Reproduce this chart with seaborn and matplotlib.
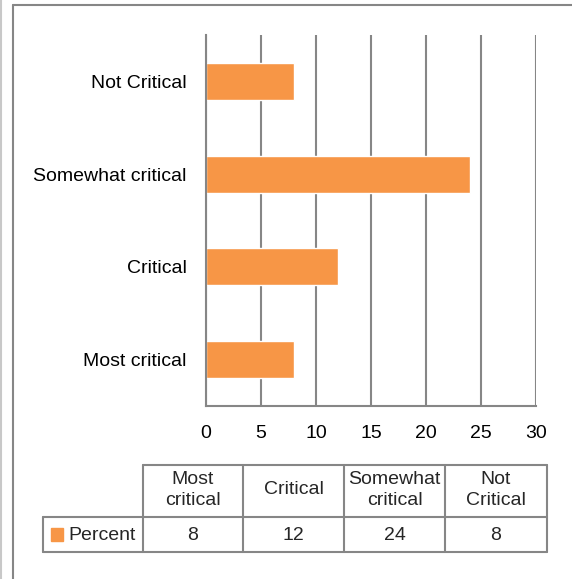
import matplotlib
matplotlib.use("Agg")
import matplotlib.pyplot as plt
from matplotlib.lines import Line2D
from matplotlib.patches import Rectangle
import seaborn as sns
import pandas as pd

categories = ["Most critical", "Critical", "Somewhat critical", "Not Critical"]
percent = [8, 12, 24, 8]
table_headers = ["Most\ncritical", "Critical", "Somewhat\ncritical", "Not\nCritical"]
series_name = "Percent"
x_ticks = [0, 5, 10, 15, 20, 25, 30]

BAR = "#F79646"
GRID = "#868686"
W, H = 572, 579
FS = 14

sns.set_theme(style="white")
plt.rcParams["font.family"] = ["Liberation Sans", "DejaVu Sans"]

fig = plt.figure(figsize=(W / 100, H / 100), dpi=100)
fig.patch.set_facecolor("white")


def fx(px):
    return px / W


def fy(py):
    return 1 - py / H


ax = fig.add_axes([fx(206), fy(406), fx(536) - fx(206), fy(35) - fy(406)])
df = pd.DataFrame({"category": categories, "value": percent})
order = categories[::-1]
sns.barplot(data=df, x="value", y="category", order=order, color=BAR,
            saturation=1, width=0.4, ax=ax)
ax.set_xlim(0, 30)
ax.set_xticks(x_ticks)
ax.set_xlabel("")
ax.set_ylabel("")
ax.grid(axis="x", color=GRID, linewidth=1.5)
ax.set_axisbelow(True)
for s in ["top", "right"]:
    ax.spines[s].set_visible(False)
for s in ["left", "bottom"]:
    ax.spines[s].set_color(GRID)
    ax.spines[s].set_linewidth(1.5)
ax.tick_params(axis="x", length=0, pad=14, labelsize=FS, colors="black")
ax.tick_params(axis="y", length=0, pad=14, labelsize=FS, colors="black")

# data table below the chart
cols = [143, 243, 344, 445, 547]
row_top, row_mid, row_bot = 465, 517, 552
tl = dict(color=GRID, linewidth=1.5, transform=fig.transFigure)
fig.add_artist(Line2D([fx(143), fx(547)], [fy(row_top)] * 2, **tl))
fig.add_artist(Line2D([fx(43), fx(547)], [fy(row_mid)] * 2, **tl))
fig.add_artist(Line2D([fx(43), fx(547)], [fy(row_bot)] * 2, **tl))
fig.add_artist(Line2D([fx(43)] * 2, [fy(row_mid), fy(row_bot)], **tl))
for c in cols:
    fig.add_artist(Line2D([fx(c)] * 2, [fy(row_top), fy(row_bot)], **tl))
for i, (hdr, val) in enumerate(zip(table_headers, percent)):
    cx = (cols[i] + cols[i + 1]) / 2
    fig.text(fx(cx), fy((row_top + row_mid) / 2 - 1), hdr, ha="center",
             va="center", fontsize=FS, linespacing=1.3)
    fig.text(fx(cx), fy((row_mid + row_bot) / 2 + 1), str(val), ha="center",
             va="center", fontsize=FS)
fig.add_artist(Rectangle((fx(51), fy(541)), fx(63) - fx(51), fy(528) - fy(541),
                         color=BAR, transform=fig.transFigure))
fig.text(fx(68), fy((row_mid + row_bot) / 2 + 1), series_name, ha="left",
         va="center", fontsize=FS)

# chart frame
fl = dict(color=GRID, linewidth=1.5, transform=fig.transFigure)
fig.add_artist(Line2D([fx(13), fx(572)], [fy(5)] * 2, **fl))
fig.add_artist(Line2D([fx(13)] * 2, [fy(5), fy(579)], **fl))
fig.add_artist(Line2D([fx(1)] * 2, [fy(0), fy(579)], color="#C8C8C8",
                      linewidth=1.5, transform=fig.transFigure))

fig.savefig("out.png", dpi=100, facecolor="white")
